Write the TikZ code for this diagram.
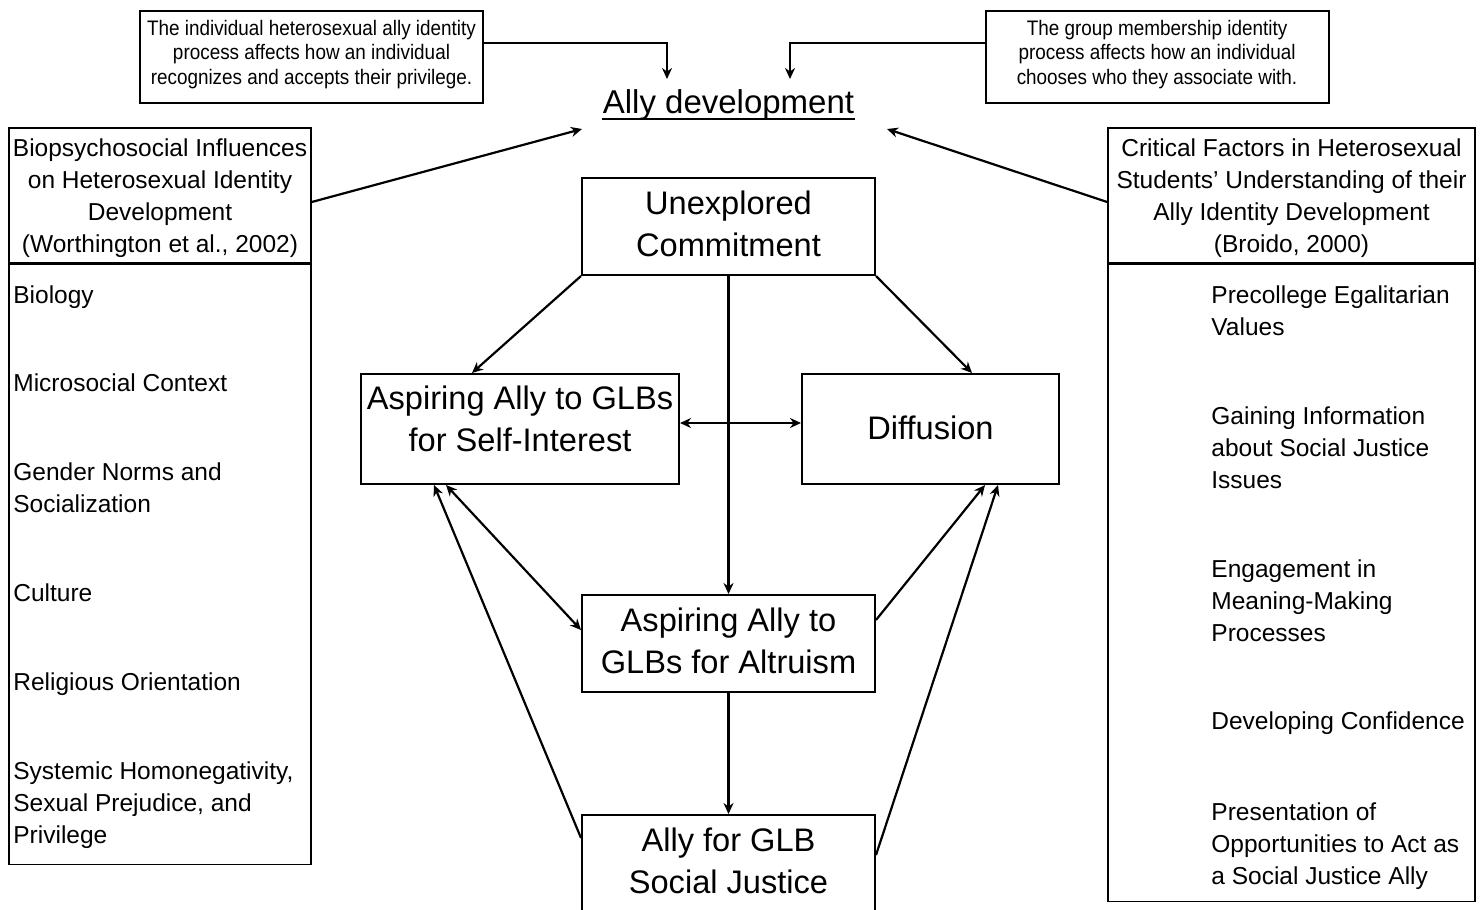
\documentclass[tikz,border=0pt]{standalone}
\usepackage{fontspec}
\setmainfont{Liberation Sans}
\newfontfamily\narrowfont[FakeStretch=0.9]{Liberation Sans}
\usetikzlibrary{arrows.meta}

\begin{document}
\begin{tikzpicture}[x=0.5pt,y=-0.5pt,
	stagebox/.style={draw, line width=1pt, align=center, inner sep=0pt, text depth=3pt,
		font=\fontsize{16.3}{21}\selectfont, minimum width=146.5pt, minimum height=48.5pt},
	notebox/.style={draw, line width=1pt, align=center, inner sep=0pt, text depth=5pt,
		font=\narrowfont\fontsize{10.5}{12.25}\selectfont, minimum width=171.5pt, minimum height=46pt},
	headbox/.style={draw, line width=0.8pt, align=center, inner sep=0pt, text depth=-0.5pt,
		font=\fontsize{12.25}{16}\selectfont, minimum height=67.5pt},
	listbox/.style={draw, line width=0.8pt, anchor=north, inner sep=0pt},
	listitem/.style={anchor=base west, align=left, inner sep=0pt, font=\fontsize{12.25}{16}\selectfont},
	arr/.style={line width=1.1pt, -{Stealth[length=5.5pt,width=5pt]}},
	dblarr/.style={line width=1.1pt, {Stealth[length=5.5pt,width=5pt]}-{Stealth[length=5.5pt,width=5pt]}}]
	
	\useasboundingbox (0,0) rectangle (1481,909);
	\clip (0,0) rectangle (1481,909);
	
	\node[notebox] (ind) at (311.5,57) {The individual heterosexual ally identity\\process affects how an individual\\recognizes and accepts their privilege.};
	\node[notebox] (grp) at (1157,57) {The group membership identity\\process affects how an individual\\chooses who they associate with.};
	
	\node[anchor=base, inner sep=0pt, font=\fontsize{16.5}{21}\selectfont] (title) at (728.5,114) {Ally development};
	\draw[line width=1pt] ([yshift=-2.5pt]title.base west) -- ([yshift=-2.5pt]title.base east);
	
	\coordinate (tl) at (667,79);
	\coordinate (tr) at (790,79);
	\coordinate (inl) at (582,129);
	\coordinate (inr) at (887,129);
	
	\draw[arr] ([yshift=7pt]ind.east) -| (tl);
	\draw[arr] ([yshift=7pt]grp.west) -| (tr);
	
	\node[headbox, minimum width=151pt] (bio) at (160,195.5) {Biopsychosocial Influences\\on Heterosexual Identity\\Development\\(Worthington et al., 2002)};
	\node[listbox, minimum width=151pt, minimum height=300pt] (biolist) at (bio.south) {};
	\node[headbox, minimum width=183.5pt] (crit) at (1291.5,195.5) {Critical Factors in Heterosexual\\Students’ Understanding of their\\Ally Identity Development\\(Broido, 2000)};
	\node[listbox, minimum width=183.5pt, minimum height=318.5pt] (critlist) at (crit.south) {};
	
	\node[listitem] (bio1) at (13,303.5) {Biology};
	\node[listitem] (bio2) at (13,391.5) {Microsocial Context};
	\node[listitem] (bio3) at (13,512.5) {Gender Norms and\\Socialization};
	\node[listitem] (bio4) at (13,601.5) {Culture};
	\node[listitem] (bio5) at (13,690.5) {Religious Orientation};
	\node[listitem] (bio6) at (13,843.5) {Systemic Homonegativity,\\Sexual Prejudice, and\\Privilege};
	
	\node[listitem] (crit1) at (1211,335.5) {Precollege Egalitarian\\Values};
	\node[listitem] (crit2) at (1211,488) {Gaining Information\\about Social Justice\\Issues};
	\node[listitem] (crit3) at (1211,641.5) {Engagement in\\Meaning-Making\\Processes};
	\node[listitem] (crit4) at (1211,729.5) {Developing Confidence};
	\node[listitem] (crit5) at (1211,884.5) {Presentation of\\Opportunities to Act as\\a Social Justice Ally};
	
	\node[stagebox] (unexp) at (728.5,226.5) {Unexplored\\Commitment};
	\node[stagebox, minimum width=159pt, minimum height=55pt, text depth=10pt] (selfint) at (520,429) {Aspiring Ally to GLBs\\for Self-Interest};
	\node[stagebox, minimum width=128.5pt, minimum height=55pt, text depth=1pt] (diff) at (930.5,429) {Diffusion};
	\node[stagebox] (altru) at (728.5,643.5) {Aspiring Ally to\\GLBs for Altruism};
	\node[stagebox] (justice) at (728.5,863.5) {Ally for GLB\\Social Justice};
	
	\draw[arr] ([yshift=-3.25pt]bio.east) -- (inl);
	\draw[arr] ([yshift=-3.25pt]crit.west) -- (inr);
	
	\draw[arr] (unexp.south west) -- ([xshift=-24pt]selfint.north);
	\draw[arr] (unexp.south east) -- ([xshift=20.75pt]diff.north);
	\draw[arr] (unexp.south) -- (altru.north);
	\draw[dblarr] ([yshift=3pt]selfint.east) -- ([yshift=3pt]diff.west);
	\draw[dblarr] ([xshift=-37pt]selfint.south) -- ([yshift=6.75pt]altru.west);
	\draw[arr] ([yshift=12.75pt]justice.west) -- ([xshift=-43pt]selfint.south);
	\draw[arr] ([yshift=11.75pt]altru.east) -- ([xshift=27.25pt]diff.south);
	\draw[arr] ([yshift=4.25pt]justice.east) -- ([xshift=33.75pt]diff.south);
	\draw[arr] (altru.south) -- (justice.north);
	
\end{tikzpicture}
\end{document}
